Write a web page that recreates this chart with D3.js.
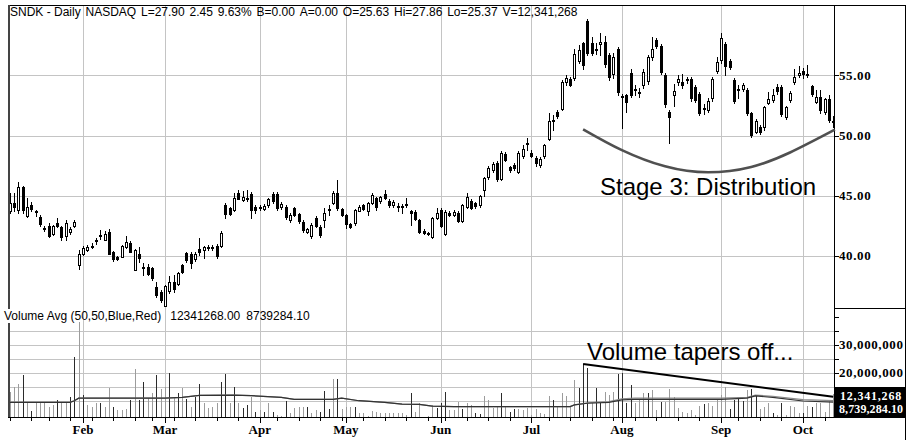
<!DOCTYPE html>
<html><head><meta charset="utf-8">
<script src="https://cdn.jsdelivr.net/npm/d3@7"></script>
<style>
html,body{margin:0;padding:0;background:#fff;}
svg{display:block;}
</style></head><body>
<svg id="c" width="906" height="440"></svg>
<script>
// ---------------- DATA ----------------
const startDate = "2007-01-08";
const holidays = ["2007-01-15","2007-02-19","2007-04-06","2007-05-28","2007-07-04","2007-09-03"];

const open = [43.69,44.43,43.82,45.71,43.27,44.24,43.70,43.27,42.35,42.49,41.83,42.77,42.38,41.66,41.97,42.49,39.25,40.17,40.56,40.78,
41.28,41.66,41.33,42.02,40.31,39.95,39.95,40.72,41.11,38.84,40.17,39.11,39.11,38.98,37.45,37.04,35.85,37.04,37.79,37.73,
39.25,40.22,40.17,39.72,40.56,40.44,40.69,40.70,40.83,40.83,44.24,43.96,43.82,45.26,44.71,44.79,45.15,44.10,44.05,43.96,
44.24,45.13,45.13,44.05,44.10,42.99,43.96,43.46,42.85,42.00,41.66,43.13,42.44,42.99,43.88,44.43,45.21,43.88,43.41,42.66,
42.72,43.77,44.24,43.69,44.38,44.79,44.52,45.13,44.60,44.24,44.16,44.15,44.32,43.74,43.69,42.99,42.11,41.90,41.55,43.21,
43.82,41.89,43.60,43.41,43.60,42.94,44.05,44.60,44.38,44.24,45.49,46.54,47.15,47.70,46.46,48.48,47.37,47.56,47.01,48.26,
49.30,48.59,48.12,47.56,48.26,49.78,51.30,52.00,52.27,54.41,54.69,54.77,56.24,57.68,59.56,57.73,57.07,57.62,57.82,56.71,
55.18,57.18,53.33,53.38,55.24,53.85,53.66,54.21,54.49,56.51,57.95,57.46,55.05,52.00,53.38,54.41,54.49,54.57,54.69,54.02,
53.47,52.27,52.19,53.11,55.41,56.24,57.62,56.24,54.63,53.85,53.85,53.80,51.91,50.34,50.75,50.70,52.75,52.97,54.02,54.08,
51.53,52.97,54.41,55.05,55.41,55.15,54.13,52.83,53.19,51.91,53.02,51.20];
const high = [45.21,45.20,46.18,45.80,44.80,44.50,43.85,43.40,42.50,42.70,42.55,43.13,42.50,43.00,42.40,43.00,40.50,40.80,40.90,41.05,
41.47,42.16,42.10,42.20,40.40,40.00,40.90,41.66,41.20,40.55,40.78,39.40,39.30,39.10,37.87,37.20,37.60,38.34,38.42,38.70,
39.35,40.30,40.30,40.30,41.47,40.80,40.90,40.90,40.95,42.11,44.40,44.10,45.20,45.49,45.40,45.50,45.30,44.20,44.20,44.30,
44.85,45.30,45.30,44.45,44.20,43.60,44.05,43.60,43.00,42.35,42.70,43.30,42.55,43.96,44.24,45.40,46.32,44.00,43.50,42.75,
43.90,44.20,44.35,44.45,45.20,44.90,45.00,45.49,44.70,44.65,44.40,44.35,44.79,43.82,43.80,43.10,42.20,42.00,43.20,43.96,
43.96,43.80,43.70,43.82,43.70,44.30,45.21,44.70,44.45,45.10,46.60,47.45,47.80,47.85,48.70,48.60,47.50,47.70,48.70,49.20,
49.80,48.80,48.30,48.20,49.30,51.86,51.72,52.10,54.60,55.00,54.85,57.20,57.50,57.80,59.70,58.23,57.70,58.51,58.30,56.90,
56.90,57.40,53.50,53.50,55.50,54.20,54.00,55.50,56.70,58.23,58.10,57.60,55.20,52.10,54.30,55.00,55.10,54.90,54.85,54.20,
53.60,52.60,53.10,54.85,56.50,58.51,57.80,56.40,54.80,54.20,54.40,54.00,52.00,51.40,50.90,52.50,53.60,53.90,54.30,54.20,
52.50,53.70,55.50,55.80,55.60,55.90,54.20,53.80,53.80,53.10,53.40,51.60];
const low = [43.55,43.70,43.60,43.60,43.20,43.70,43.30,42.50,42.10,41.60,41.70,42.40,41.33,41.33,41.80,42.40,38.89,40.10,40.45,40.64,
41.00,41.39,41.30,40.15,39.60,39.70,39.90,40.65,40.30,38.80,39.53,38.42,38.45,38.00,36.62,36.20,35.80,36.95,37.04,37.60,
38.60,39.50,38.98,39.60,40.08,39.81,40.50,40.50,39.81,40.75,43.13,43.40,43.75,44.70,44.60,44.60,43.13,43.60,43.80,43.80,
44.10,44.40,43.85,43.90,43.10,42.85,43.30,42.70,42.00,41.90,41.47,42.40,41.60,42.44,43.41,44.30,43.80,43.30,42.30,42.30,
42.60,43.70,43.80,43.41,44.30,43.82,44.40,44.70,44.10,44.10,43.70,43.60,44.05,42.58,43.00,41.90,41.80,41.75,41.50,43.10,
42.40,41.75,43.30,43.30,42.85,42.85,43.96,43.90,44.00,44.10,45.00,46.40,47.00,46.20,46.30,47.90,46.95,47.15,46.90,48.10,
48.80,48.20,47.50,47.40,48.10,49.60,50.47,51.50,52.10,54.20,54.10,54.60,56.00,55.50,56.70,56.70,56.80,56.71,55.70,54.60,
54.80,53.40,50.61,52.00,53.20,53.40,53.20,54.00,54.30,56.30,57.30,55.10,52.40,49.37,52.50,54.20,54.00,54.40,52.90,52.80,
51.70,51.80,52.00,52.90,55.20,56.00,55.00,55.50,52.70,53.10,53.70,51.70,49.90,50.20,50.10,50.50,52.60,52.80,53.50,51.60,
51.40,52.80,54.30,54.90,54.80,54.90,53.30,52.70,51.90,51.80,51.10,50.70];
const close = [44.38,44.10,45.71,43.82,44.05,43.91,43.60,42.66,42.30,41.66,42.49,42.49,41.55,42.72,42.24,42.85,40.17,40.69,40.78,40.80,
41.30,41.70,41.83,40.22,39.72,39.81,40.83,41.14,40.36,40.50,39.81,39.08,38.56,38.15,36.82,36.34,37.51,37.79,37.17,38.62,
38.70,39.67,39.39,40.17,40.28,40.72,40.72,40.68,40.00,41.89,43.49,43.49,44.85,44.79,44.93,44.77,43.82,43.82,44.03,44.18,
44.71,44.52,43.96,44.32,43.27,43.41,43.41,42.85,42.16,42.22,42.58,42.49,41.75,43.60,43.90,45.26,43.96,43.41,42.66,42.44,
43.82,44.10,43.91,44.38,45.07,44.05,44.88,44.79,44.24,44.52,44.14,44.17,44.30,43.60,43.13,42.02,41.94,41.88,43.13,43.60,
42.49,43.69,43.41,43.69,42.94,44.24,44.88,44.05,44.10,44.99,46.46,47.29,47.65,46.37,48.59,47.98,47.09,47.29,48.59,48.85,
49.35,48.37,47.70,48.03,49.20,51.25,51.25,51.64,54.49,54.77,54.21,56.79,57.12,55.88,56.90,56.90,57.18,57.82,56.02,54.85,
56.57,53.58,53.24,52.83,53.38,53.83,53.62,55.32,56.51,57.18,57.46,55.32,52.63,51.58,53.74,54.69,54.21,54.69,53.11,52.97,
51.86,52.25,52.91,54.69,56.15,58.09,55.82,55.74,52.91,53.80,54.21,51.86,50.06,51.25,50.34,52.36,53.05,53.38,53.66,51.80,
52.36,53.52,54.85,55.24,55.18,55.12,53.47,53.24,52.08,53.02,51.30,51.10];

// volume in millions of shares
const volume = [13.3,15.1,16.1,19.3,9.2,6.5,9.2,9.5,9.2,8.0,8.6,10.4,9.8,9.8,11.5,25.6,38.3,12.1,8.6,8.0,
9.2,9.2,8.0,14.5,8.0,6.8,6.8,7.0,10.4,21.4,10.4,16.9,11.0,12.7,19.3,14.2,15.1,19.9,11.0,13.0,
14.5,10.6,8.0,11.3,16.1,9.2,7.4,8.0,9.2,16.9,19.6,9.2,15.1,9.2,7.4,8.6,11.5,6.2,6.8,6.2,
9.2,6.2,5.0,4.6,10.1,5.6,7.4,7.7,7.7,8.0,5.8,6.8,6.2,13.7,7.0,17.7,17.7,7.0,8.0,7.7,
8.0,5.6,5.6,4.6,6.5,6.2,5.8,5.8,5.8,5.6,5.6,5.6,5.0,13.0,6.2,9.2,4.4,4.6,8.6,7.4,
9.2,13.3,6.8,6.8,9.8,7.0,9.2,8.6,5.8,5.4,11.8,10.4,7.4,8.0,12.7,8.2,6.2,7.0,7.0,6.8,
7.4,5.0,7.0,5.8,5.4,11.8,10.4,8.0,13.0,11.8,8.0,17.5,14.5,23.2,21.7,9.2,14.5,9.2,13.3,12.1,
13.3,19.6,19.9,9.2,15.7,9.4,10.4,13.0,12.7,13.9,6.8,9.8,9.8,14.2,11.3,7.4,6.2,5.8,6.8,5.0,
8.2,8.9,9.4,8.2,10.6,12.1,14.9,7.0,10.4,11.0,10.1,13.9,14.2,12.1,7.0,7.7,9.2,5.8,5.0,9.4,
5.0,8.2,8.0,5.6,5.6,8.2,8.0,9.2,9.4,6.2,10.4,12.34];
// bar tone per day: d = dark (blue), g = light (red)
const volumeTone = ("gggdgdgggggdggddgdgggdggdgggdgddggdggdgdgdgddggggdd" +
  "gdgddgdgdgdggdggggdggdddgdgggdggggggggggggdgggggdddgggdggddgg" +
  "ggdgddggggggggdgggggdddgddgggddddgggdggdgggggggggdgggggddddgddgg" +
  "gdgdggggdgdggggggddgg").split("");

// 50-day volume averages (millions), read at these day indices
const avgIdx  = [0,14,15,16,36,40,44,52,56,63,66,75,77,81,87,91,95,98,103,130,131,134,139,142,145,165,171,173,177,184,191];
const avgBlue = [9.5,9.5,10.1,11.0,11.0,11.3,12.0,12.1,11.9,11.3,10.6,10.6,11.0,10.1,9.5,8.9,8.8,8.2,8.0,8.0,8.6,9.2,9.5,10.4,10.6,10.6,11.0,11.8,11.3,10.0,9.6];
const avgRed  = [9.5,9.5,10.1,11.0,11.0,11.3,12.0,12.1,11.9,11.3,10.6,10.6,11.0,10.1,9.5,8.9,8.8,8.2,8.0,8.0,8.6,9.3,9.8,10.8,11.0,11.0,11.3,12.1,11.7,10.5,10.1];

const priceTicks = [40,45,50,55];
const volTicks = [10,15,20,25,30,35];
const volTickMarks = [15,20,25,30,35,40];
const volLabelTicks = [20,30];

const headerTokens = ["SNDK - Daily","NASDAQ","L=27.90","2.45","9.63%","B=0.00","A=0.00","O=25.63","Hi=27.86","Lo=25.37","V=12,341,268"];
const volHeaderTokens = ["Volume Avg (50,50,Blue,Red)","12341268.00","8739284.10"];
const lastVolLabel = "12,341,268";
const lastAvgLabel = "8,739,284.10";

// annotations (day index, value)
const arcIdx = [133,142,152,162,172,181,191.4];
const arcPrice = [50.53,48.8,47.45,46.95,47.4,48.6,50.5];
const taperIdx = [133,191];
const taperVol = [23.2,11.5];

// ---------------- CHART ----------------
const svg = d3.select("#c");
const fmt = d3.utcFormat("%Y-%m-%d");
const hol = new Set(holidays);
const dates = [];
let dd = d3.utcParse("%Y-%m-%d")(startDate);
while (dates.length < open.length) {
  const wd = dd.getUTCDay();
  if (wd !== 0 && wd !== 6 && !hol.has(fmt(dd))) dates.push(dd);
  dd = d3.utcDay.offset(dd, 1);
}
const L = 8, R = 834, T = 5, MID = 308, B = 417;
const x = d3.scaleBand().domain(dates.map(fmt)).range([7.55, 835.3]);
const cx = i => x(fmt(dates[i])) + x.bandwidth()/2;
const xi = i => cx(0) + i * x.step();
const y = d3.scaleLinear().domain([35.67, 60.86]).range([MID, T]);
const yv = d3.scaleLinear().domain([4.286, 43.21]).range([B, MID]);
const px = v => Math.round(v) + 0.5;

svg.append("rect").attr("width",906).attr("height",440).attr("fill","#fff");

const monthIdx = d3.range(1, dates.length).filter(i => dates[i].getUTCMonth() !== dates[i-1].getUTCMonth());
const weekIdx = d3.range(0, dates.length).filter(i => i === 0 || dates[i].getUTCDay() < dates[i-1].getUTCDay());

const grid = svg.append("g").attr("stroke","#c4c4c4").attr("stroke-width",1).attr("shape-rendering","crispEdges");
grid.selectAll(".v").data(monthIdx).join("line")
  .attr("x1", i => px(cx(i))).attr("x2", i => px(cx(i))).attr("y1", T).attr("y2", B);
grid.selectAll(".p").data(priceTicks).join("line")
  .attr("x1", L).attr("x2", R).attr("y1", d => px(y(d))).attr("y2", d => px(y(d)));
grid.selectAll(".q").data(volTicks).join("line")
  .attr("x1", L).attr("x2", R).attr("y1", d => px(yv(d))).attr("y2", d => px(yv(d)));

// volume bars
const volG = svg.append("g").attr("shape-rendering","crispEdges");
volG.selectAll("line").data(volume).join("line")
  .attr("x1",(v,i)=>px(cx(i))).attr("x2",(v,i)=>px(cx(i)))
  .attr("y1", B).attr("y2", v => Math.round(yv(Math.min(v, 43))))
  .attr("stroke",(v,i)=> volumeTone[i]==="d" ? "#2b2b2b" : "#9c9c9c").attr("stroke-width",1);

// averages
const avgLine = arr => d3.line().x((d,k)=>xi(avgIdx[k])).y(d=>yv(d))(arr);
svg.append("path").attr("d", avgLine(avgRed)).attr("fill","none").attr("stroke","#8a8a8a").attr("stroke-width",1.2);
svg.append("path").attr("d", avgLine(avgBlue)).attr("fill","none").attr("stroke","#333").attr("stroke-width",1.2);

// candles
const cg = svg.append("g").attr("shape-rendering","crispEdges");
const idx = d3.range(open.length);
cg.selectAll(".w").data(idx).join("line")
  .attr("x1", i=>px(cx(i))).attr("x2", i=>px(cx(i)))
  .attr("y1", i=>Math.round(y(high[i]))).attr("y2", i=>Math.round(y(low[i]))+1)
  .attr("stroke","#000");
cg.selectAll(".b").data(idx).join("rect")
  .attr("x", i=>Math.round(cx(i))-0.5).attr("width",2)
  .attr("y", i=>Math.round(y(Math.max(open[i],close[i])))+0.5)
  .attr("height", i=>Math.max(Math.round(Math.abs(y(open[i])-y(close[i]))),1))
  .attr("fill", i=> close[i] >= open[i] ? "#fff" : "#000")
  .attr("stroke","#000").attr("stroke-width",1);

// frame
const fr = svg.append("g").attr("stroke","#000").attr("shape-rendering","crispEdges");
fr.append("line").attr("x1",L).attr("x2",906).attr("y1",T+0.5).attr("y2",T+0.5).attr("stroke-width",1.5);
fr.append("line").attr("x1",L+0.5).attr("x2",L+0.5).attr("y1",T).attr("y2",309).attr("stroke","#444").attr("stroke-width",2);
fr.append("line").attr("x1",L+0.5).attr("x2",L+0.5).attr("y1",323).attr("y2",B+1).attr("stroke","#444").attr("stroke-width",2);
fr.append("line").attr("x1",R+0.5).attr("x2",R+0.5).attr("y1",T).attr("y2",B+1);
fr.append("line").attr("x1",L).attr("x2",R+1).attr("y1",B+0.5).attr("y2",B+0.5);
fr.append("line").attr("x1",R).attr("x2",906).attr("y1",MID+0.5).attr("y2",MID+0.5);
fr.append("line").attr("x1",905.5).attr("x2",905.5).attr("y1",T).attr("y2",440);

// x ticks
fr.selectAll(".wt").data(weekIdx).join("line")
  .attr("x1",i=>px(cx(i))).attr("x2",i=>px(cx(i))).attr("y1",B).attr("y2",B+4);
fr.selectAll(".mt").data(monthIdx).join("line")
  .attr("x1",i=>px(cx(i))).attr("x2",i=>px(cx(i))).attr("y1",B).attr("y2",B+6);

const serif = "'Liberation Serif','Times New Roman',serif";
const sans = "'Liberation Sans',Arial,Helvetica,sans-serif";

svg.selectAll(".ml").data(monthIdx).join("text")
  .attr("x", i=>cx(i)).attr("y", 434).attr("text-anchor","middle")
  .attr("font-family", serif).attr("font-weight","bold").attr("font-size",13)
  .text(i => d3.utcFormat("%b")(dates[i]));

// right axis
fr.selectAll(".pt").data(priceTicks).join("line")
  .attr("x1",R).attr("x2",R+5).attr("y1",d=>px(y(d))).attr("y2",d=>px(y(d)));
svg.selectAll(".pl").data(priceTicks).join("text")
  .attr("x", R+5).attr("y", d=>y(d)+4.5)
  .attr("font-family", serif).attr("font-weight","bold").attr("font-size",13).attr("letter-spacing",0.6)
  .text(d => d3.format(".2f")(d));
fr.selectAll(".vt").data(volTickMarks).join("line")
  .attr("x1",R).attr("x2",R+5).attr("y1",d=>px(yv(d))).attr("y2",d=>px(yv(d)));
svg.selectAll(".vl").data(volLabelTicks).join("text")
  .attr("x", R+5).attr("y", d=>yv(d)+4.5)
  .attr("font-family", serif).attr("font-weight","bold").attr("font-size",13).attr("letter-spacing",0.6)
  .text(d => d3.format(",")(d*1e6));

// last value box
svg.append("rect").attr("x",R+1).attr("y",387).attr("width",906-R-1).attr("height",31).attr("fill","#000");
svg.append("text").attr("x",R+6).attr("y",399.5)
  .attr("font-family", serif).attr("font-weight","bold").attr("font-size",12).attr("letter-spacing",0.8)
  .attr("fill","#fff").text(lastVolLabel);
svg.append("text").attr("x",R+5).attr("y",413)
  .attr("font-family", serif).attr("font-weight","bold").attr("font-size",12).attr("letter-spacing",0.1)
  .attr("fill","#fff").text(lastAvgLabel);

// headers
function layoutTokens(tokens, x0, yb, gaps) {
  let xx = x0;
  tokens.forEach((t,k) => {
    const el = svg.append("text").attr("x", xx).attr("y", yb)
      .attr("font-family", sans).attr("font-size", 12).attr("fill","#000").text(t);
    xx += el.node().getComputedTextLength() + (Array.isArray(gaps) ? gaps[k] : gaps);
  });
}
layoutTokens(headerTokens, 10, 16, 4.8);
layoutTokens(volHeaderTokens, 4, 320, [9, 6, 0]);

// annotations
svg.append("path")
  .attr("d", d3.line().curve(d3.curveNatural).x((d,k)=>xi(arcIdx[k])).y(d=>y(d))(arcPrice))
  .attr("fill","none").attr("stroke","#505050").attr("stroke-width",2.6);
svg.append("text").attr("x",600).attr("y",195).attr("font-family",sans).attr("font-size",24)
  .attr("fill","#000").text("Stage 3: Distribution");
svg.append("line")
  .attr("x1", xi(taperIdx[0])).attr("y1", yv(taperVol[0]))
  .attr("x2", xi(taperIdx[1])).attr("y2", yv(taperVol[1]))
  .attr("stroke","#000").attr("stroke-width",2);
svg.append("text").attr("x",587).attr("y",360).attr("font-family",sans).attr("font-size",24)
  .attr("fill","#000").text("Volume tapers off...");
</script>
</body></html>
